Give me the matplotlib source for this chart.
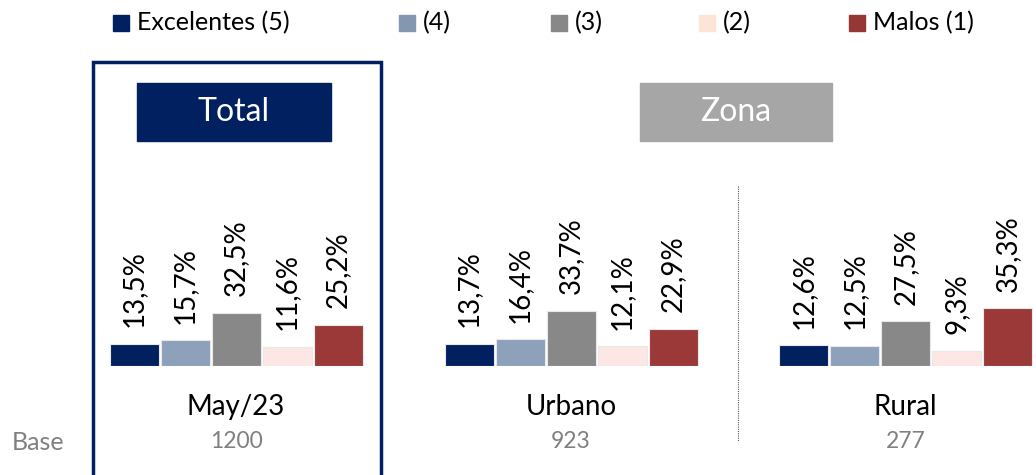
import matplotlib.pyplot as plt
from matplotlib.patches import Rectangle
import numpy as np

plt.rcParams['font.family'] = ['Lato', 'DejaVu Sans']

# Data
levels = ["Excelentes (5)", "(4)", "(3)", "(2)", "Malos (1)"]
colors = ["#002060", "#8EA1BB", "#888888", "#FDE7E5", "#9B3939"]
legend_colors = ["#002060", "#8497B0", "#888888", "#FCE4D6", "#953735"]
groups = ["May/23", "Urbano", "Rural"]
bases = ["1200", "923", "277"]
total_may23 = [13.5, 15.7, 32.5, 11.6, 25.2]
urbano = [13.7, 16.4, 33.7, 12.1, 22.9]
rural = [12.6, 12.5, 27.5, 9.3, 35.3]
series = [total_may23, urbano, rural]

W, H = 1036, 475
fig = plt.figure(figsize=(W / 100, H / 100), dpi=100)


def fx(x):
    return x / W


def fy(y):
    return 1 - y / H


# bar panel: x in pixels, y in percent
group_centers = [236, 571, 905.5]
pitch, bw = 51, 49
baseline = 366
ax = fig.add_axes([0, fy(baseline), 1, 163 / H])
ax.set_xlim(0, W)
ax.set_ylim(0, 100)
ax.axis("off")

for gc, vals in zip(group_centers, series):
    xs = gc + (np.arange(len(vals)) - 2) * pitch
    ax.bar(xs, vals, width=bw, color=colors, edgecolor="#e8e8e8", linewidth=0.8)
    for x, v in zip(xs, vals):
        ax.annotate(f"{v:.1f}%".replace(".", ","), (x, v), xytext=(0, 12),
                    textcoords="offset points", rotation=90, ha="center", va="bottom",
                    fontsize=20, color="black")

# legend
legend_x = [113, 399, 551, 699, 849]
for x, lab, c in zip(legend_x, levels, legend_colors):
    fig.patches.append(Rectangle((fx(x), fy(31)), 16 / W, 16 / H, color=c,
                                 transform=fig.transFigure))
    fig.text(fx(x + 24), fy(23), lab, fontsize=18, va="center", ha="left")

# Total frame
fig.patches.append(Rectangle((fx(93), fy(480)), 288 / W, 418 / H, fill=False,
                             edgecolor="#002060", linewidth=2.5, transform=fig.transFigure))

# header boxes
fig.patches.append(Rectangle((fx(137), fy(141)), 194 / W, 58 / H, color="#002060",
                             transform=fig.transFigure))
fig.text(fx(234), fy(112), "Total", color="white", fontsize=23, ha="center", va="center")
fig.patches.append(Rectangle((fx(640), fy(141)), 192 / W, 58 / H, color="#A6A6A6",
                             transform=fig.transFigure))
fig.text(fx(736), fy(112), "Zona", color="white", fontsize=23, ha="center", va="center")

# separator between Urbano and Rural
fig.add_artist(plt.Line2D([fx(738), fx(738)], [fy(186), fy(441)], color="#555555",
                          linestyle=(0, (1, 1)), linewidth=0.8))

# category labels and bases
for gc, g, b in zip(group_centers, groups, bases):
    fig.text(fx(gc), fy(407), g, fontsize=20, ha="center", va="center")
    fig.text(fx(gc), fy(442), b, fontsize=16.5, ha="center", va="center", color="#808080")
fig.text(fx(12), fy(442), "Base", fontsize=18, ha="left", va="center", color="#808080")

fig.savefig("out.png", dpi=100)
